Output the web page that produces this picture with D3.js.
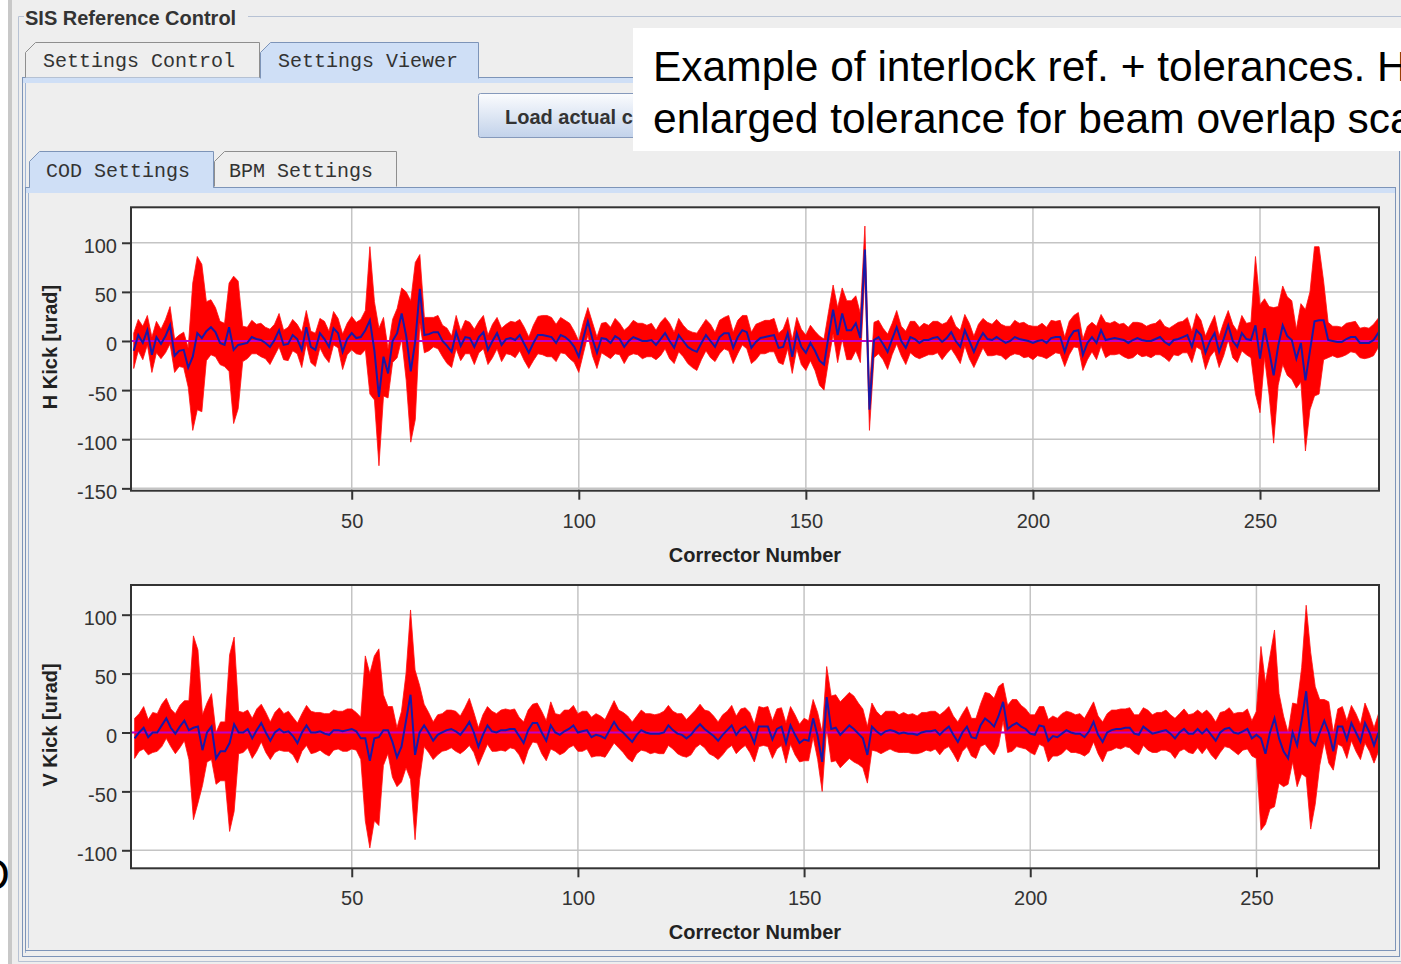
<!DOCTYPE html>
<html><head><meta charset="utf-8">
<script src="https://cdn.jsdelivr.net/npm/d3@7"></script>
<style>body{margin:0;background:#fff;overflow:hidden}svg{display:block}</style>
</head><body>
<svg id="c" width="1401" height="964"></svg>
<script>
// ---------------- data ----------------
const firstCorrector = 2;
const hRef = [-10,6,-2,11,-14,4,-3,5,16,-15,
 -10,-9,-27,-16,8,3,10,14,9,-2,
 -4,14,-9,-4,-3,-2,4,2,1,-2,
 -6,1,11,-4,-3,6,2,-9,14,-6,
 -9,8,2,-6,13,8,-11,2,8,3,
 4,11,21,-10,-57,-16,-33,0,8,28,
 5,-31,0,53,6,7,9,9,0,-5,
 -11,9,-5,4,3,-6,4,9,-9,0,
 8,-4,2,3,1,6,-3,-12,-2,6,
 6,5,4,-2,6,4,0,-6,-16,3,
 20,2,-12,3,2,-2,5,2,-6,0,
 4,2,0,0,1,-4,2,8,0,-7,
 6,0,-6,-9,-11,-2,6,0,-6,4,
 8,8,-7,4,11,9,-7,-1,3,4,
 5,6,-7,-6,8,-16,8,-6,-12,-2,
 -10,-20,-24,5,32,6,28,11,11,18,
 3,93,-70,1,4,-3,-11,2,14,0,
 -7,4,2,-2,1,1,3,4,-1,3,
 9,0,-6,11,0,-11,0,8,2,1,
 4,1,-2,0,4,2,1,0,-2,0,
 1,-2,3,4,4,-11,3,10,11,-14,
 -2,4,-2,11,1,2,3,2,1,-2,
 1,3,1,0,0,2,4,-1,-4,1,
 2,4,6,-6,11,6,-12,0,8,-11,
 2,16,0,-6,8,2,1,16,-18,13,
 -10,-35,-5,16,5,1,-18,-2,-40,-10,
 20,21,21,1,0,-1,-1,2,4,4,
 -2,-2,-2,1,8,0];
const hTol = [18,16,17,15,18,16,15,17,19,17,
 16,18,20,75,78,75,30,28,25,22,
 22,45,75,65,18,16,17,15,17,16,
 18,16,17,15,17,16,15,18,17,16,
 17,15,18,16,17,15,18,16,17,16,
 18,20,75,50,70,40,25,22,25,26,
 45,72,80,35,18,17,15,17,16,18,
 16,17,15,17,16,18,16,17,15,17,
 16,17,15,17,18,16,17,16,18,19,
 20,21,20,19,18,17,18,16,16,16,
 14,17,16,15,17,16,18,16,17,15,
 17,16,18,16,17,15,17,16,18,16,
 17,16,17,18,19,17,16,17,15,17,
 16,18,16,17,15,17,16,18,16,17,
 16,17,15,18,16,17,16,18,18,18,
 20,25,26,25,25,28,26,30,30,28,
 25,24,21,18,17,16,18,16,17,15,
 17,16,18,16,17,15,17,16,18,16,
 17,15,17,16,18,16,17,15,17,16,
 18,16,17,15,17,16,18,16,17,15,
 17,16,18,16,17,15,17,16,18,16,
 17,15,17,16,18,16,17,15,17,16,
 18,16,17,15,17,16,18,16,17,15,
 17,16,18,16,17,15,17,16,18,16,
 17,15,17,16,18,16,18,70,55,30,
 45,69,40,40,40,40,30,40,72,60,
 76,75,40,18,15,16,15,16,15,16,
 15,16,15,16,15,15];
const vRef = [-5,0,4,-4,0,0,6,12,4,-1,
 5,10,2,4,5,-15,0,5,-22,-16,
 -16,-9,7,0,0,3,-5,2,8,0,
 -7,0,3,0,1,-3,-9,0,6,0,
 0,1,-1,-2,2,2,1,2,3,1,
 -5,-5,-24,-5,-4,2,2,-8,-21,-12,
 10,32,-19,0,6,0,-7,-2,0,2,
 3,1,-2,3,9,0,-12,-2,6,1,
 0,2,2,3,3,-3,-9,2,8,8,
 0,-7,6,0,-2,1,3,6,0,1,
 2,-4,-2,-3,-5,2,9,3,0,-4,
 -8,-2,2,0,-1,-1,-1,0,6,2,
 -1,-2,-5,-2,3,7,3,0,-3,-7,
 -2,2,6,-2,3,5,0,-9,5,5,
 5,-6,3,5,-9,6,-2,-9,-6,-7,
 12,-3,-25,30,3,4,-2,2,6,3,
 -1,-5,-19,5,1,-2,1,2,1,-1,
 0,-1,-1,-2,0,1,1,2,-2,2,
 5,-2,-8,0,5,-4,-5,6,12,9,
 5,14,26,3,6,8,5,3,-1,-2,
 6,5,-7,-3,-4,-1,2,0,-1,-1,
 -4,1,9,-2,-8,0,2,3,3,4,
 4,-1,-2,5,2,-1,0,1,2,-1,
 -5,0,3,-1,-1,3,-1,3,-2,-7,
 0,3,4,0,-1,1,3,-5,-2,-5,
 -18,0,12,-5,-16,-22,0,-11,10,35,
 -7,-11,0,10,0,-16,5,5,-6,8,
 0,-8,8,0,-11,0];
const vTol = [17,16,18,15,17,16,18,17,16,17,
 18,17,25,78,65,30,25,28,22,25,
 25,75,74,18,17,16,17,18,16,17,
 16,17,18,16,17,16,17,16,17,18,
 17,16,17,18,17,16,17,18,17,16,
 18,70,74,70,75,30,20,30,25,30,
 40,72,72,40,18,17,16,17,16,17,
 16,17,16,18,20,17,16,17,16,17,
 16,17,18,16,17,16,18,17,16,17,
 18,17,20,16,17,18,16,17,16,17,
 16,17,18,17,16,17,18,16,17,18,
 17,16,17,16,17,16,17,18,17,16,
 17,18,16,17,16,17,16,18,17,16,
 17,16,17,16,17,16,17,16,17,16,
 17,16,17,16,17,16,17,16,18,17,
 16,20,25,26,28,28,28,28,28,28,
 26,25,24,20,17,16,17,16,17,16,
 17,16,17,16,17,16,17,16,17,16,
 17,16,17,16,17,16,17,18,22,24,
 24,25,16,20,22,20,18,17,16,17,
 16,17,18,17,16,17,16,17,16,17,
 16,18,17,16,17,16,17,16,17,16,
 17,16,17,16,17,16,17,16,17,16,
 17,16,17,16,17,16,17,16,17,16,
 17,15,17,16,18,16,17,15,20,78,
 60,65,75,38,30,22,25,35,45,73,
 75,50,28,18,26,16,15,17,16,15,
 16,15,17,16,15,16];
const xTicks = [50,100,150,200,250];
const hYTicks = [-150,-100,-50,0,50,100];
const vYTicks = [-100,-50,0,50,100];
const xLabel = "Corrector Number";
const hLabel = "H Kick [urad]";
const vLabel = "V Kick [urad]";
const panelTitle = "SIS Reference Control";
const outerTabs = ["Settings Control","Settings Viewer"];
const innerTabs = ["COD Settings","BPM Settings"];
const buttonText = "Load actual c";
const noteLines = ["Example of interlock ref. + tolerances. H","enlarged tolerance for beam overlap sca"];

// ---------------- drawing ----------------
const svg = d3.select("#c");
const SANS = "'Liberation Sans', Arial, sans-serif";
const MONO = "'Liberation Mono', 'DejaVu Sans Mono', monospace";
const BG = "#eeeeee", SEL = "#cfdff6", SELB = "#7d94b8", UNB = "#8e8e8e";

svg.append("rect").attr("width",1401).attr("height",964).attr("fill","#fff");
svg.append("rect").attr("x",8).attr("y",0).attr("width",4).attr("height",964).attr("fill","#c8c8c8");
svg.append("rect").attr("x",12).attr("y",0).attr("width",1389).attr("height",964).attr("fill",BG);

// titled border
svg.append("path").attr("d","M24,16.5 H18.5 V961.5 H1401 M248,16.5 H1401")
  .attr("fill","none").attr("stroke","#b7c2d4").attr("stroke-width",1);
svg.append("text").attr("x",25).attr("y",25).text(panelTitle)
  .attr("font-family",SANS).attr("font-weight","bold").attr("font-size",20).attr("fill","#333");

function tab(x,y,w,h,sel,label,tx,ty){
  svg.append("path").attr("d",`M${x},${y+h} L${x},${y+10} L${x+10},${y} L${x+w},${y} L${x+w},${y+h}`)
    .attr("fill",sel?SEL:BG).attr("stroke",sel?SELB:UNB).attr("stroke-width",1);
  svg.append("text").attr("x",tx).attr("y",ty).text(label)
    .attr("font-family",MONO).attr("font-size",20).attr("fill","#333");
}
// outer tab panel
svg.append("rect").attr("x",22.5).attr("y",77.5).attr("width",1377).attr("height",879)
  .attr("fill",BG).attr("stroke",SELB);
svg.append("rect").attr("x",23).attr("y",78).attr("width",1376).attr("height",5).attr("fill",SEL);
svg.append("line").attr("x1",25.5).attr("x2",25.5).attr("y1",83).attr("y2",953).attr("stroke","#9fb4d4");
tab(25.5,42.5,234,35,false,outerTabs[0],43,67);
tab(260.5,42.5,218,36,true,outerTabs[1],278,67);
svg.append("rect").attr("x",261).attr("y",76).attr("width",217).attr("height",7).attr("fill",SEL);

// button
const grad = svg.append("defs").append("linearGradient").attr("id","btn").attr("x1",0).attr("x2",0).attr("y1",0).attr("y2",1);
grad.append("stop").attr("offset",0).attr("stop-color","#fbfcfe");
grad.append("stop").attr("offset",1).attr("stop-color","#c2d2ea");
svg.append("rect").attr("x",478.5).attr("y",93.5).attr("width",180).attr("height",44).attr("rx",2)
  .attr("fill","url(#btn)").attr("stroke","#8599bb");
svg.append("text").attr("x",505).attr("y",124).text(buttonText)
  .attr("font-family",SANS).attr("font-weight","bold").attr("font-size",20).attr("fill","#333");

// inner tab panel
svg.append("rect").attr("x",25.5).attr("y",187.5).attr("width",1370).attr("height",763)
  .attr("fill",BG).attr("stroke",SELB);
svg.append("rect").attr("x",26).attr("y",188).attr("width",1369).attr("height",5).attr("fill",SEL);
svg.append("line").attr("x1",28.5).attr("x2",28.5).attr("y1",193).attr("y2",948).attr("stroke","#9fb4d4");
tab(29.5,151.5,184,36,true,innerTabs[0],46,177);
tab(214.5,151.5,182,35,false,innerTabs[1],229,177);
svg.append("rect").attr("x",30).attr("y",185).attr("width",183).attr("height",8).attr("fill",SEL);

// ---------------- charts ----------------
let clipId = 0;
function chart(cfg){
  const {ref,tol,xDom,yDom,left,right,top,bottom,yTicks,yLabel,xLabelY,yLabelY} = cfg;
  const x = d3.scaleLinear().domain(xDom).range([left,right]);
  const y = d3.scaleLinear().domain(yDom).range([bottom,top]);
  const g = svg.append("g");
  const id = "clip"+(clipId++);
  g.append("clipPath").attr("id",id).append("rect")
    .attr("x",left).attr("y",top).attr("width",right-left).attr("height",bottom-top);
  g.append("rect").attr("x",left).attr("y",top).attr("width",right-left).attr("height",bottom-top).attr("fill","#fff");
  const grid = g.append("g").attr("stroke","#c4c4c4").attr("stroke-width",1.5);
  xTicks.forEach(t=>grid.append("line").attr("x1",x(t)).attr("x2",x(t)).attr("y1",top).attr("y2",bottom));
  yTicks.forEach(t=>grid.append("line").attr("x1",left).attr("x2",right).attr("y1",y(t)).attr("y2",y(t)));
  const pts = ref.map((r,i)=>({n:i+firstCorrector,r,t:tol[i]}));
  const plot = g.append("g").attr("clip-path",`url(#${id})`);
  plot.append("path").datum(pts)
    .attr("d",d3.area().x(d=>x(d.n)).y0(d=>y(d.r-d.t)).y1(d=>y(d.r+d.t)))
    .attr("fill","#ff0000").attr("stroke","#ff1010").attr("stroke-width",0.8).attr("stroke-linejoin","round");
  plot.append("line").attr("x1",left).attr("x2",right).attr("y1",y(0)).attr("y2",y(0))
    .attr("stroke","#c000c8").attr("stroke-width",2);
  plot.append("path").datum(pts)
    .attr("d",d3.line().x(d=>x(d.n)).y(d=>y(d.r)))
    .attr("fill","none").attr("stroke","#1818a8").attr("stroke-width",2);
  g.append("rect").attr("x",left).attr("y",top).attr("width",right-left).attr("height",bottom-top)
    .attr("fill","none").attr("stroke","#333").attr("stroke-width",2);
  const fmt = d => String(d);
  const ya = g.append("g").attr("transform",`translate(${left},0)`)
    .call(d3.axisLeft(y).tickValues(yTicks).tickSize(9).tickPadding(5).tickFormat(fmt));
  const xa = g.append("g").attr("transform",`translate(0,${bottom})`)
    .call(d3.axisBottom(x).tickValues(xTicks).tickSize(9).tickPadding(14).tickFormat(fmt));
  [ya,xa].forEach(a=>{
    a.select(".domain").remove();
    a.selectAll("line").attr("stroke","#333").attr("stroke-width",2);
    a.selectAll("text").attr("font-family",SANS).attr("font-size",20).attr("fill","#333");
  });
  ya.selectAll("text").attr("dy","0.5em");
  g.append("text").attr("x",(left+right)/2).attr("y",xLabelY).attr("text-anchor","middle").text(xLabel)
    .attr("font-family",SANS).attr("font-weight","bold").attr("font-size",20).attr("fill","#222");
  g.append("text").attr("transform",`translate(57,${yLabelY}) rotate(-90)`).attr("text-anchor","middle").text(yLabel)
    .attr("font-family",SANS).attr("font-weight","bold").attr("font-size",20).attr("fill","#222");
}
chart({ref:hRef,tol:hTol,xDom:[1.4,276.2],yDom:[-152.4,136.1],left:131,right:1379,top:207.3,bottom:490.7,
  yTicks:hYTicks,yLabel:hLabel,xLabelY:562,yLabelY:347});
chart({ref:vRef,tol:vTol,xDom:[1.2,277.1],yDom:[-115.3,125.2],left:131,right:1379,top:585,bottom:868.3,
  yTicks:vYTicks,yLabel:vLabel,xLabelY:939,yLabelY:725});

// ---------------- slide overlay ----------------
svg.append("rect").attr("x",633).attr("y",28).attr("width",768).attr("height",123).attr("fill","#fff");
noteLines.forEach((t,i)=>svg.append("text").attr("x",653).attr("y",81+i*52).text(t)
  .attr("font-family",SANS).attr("font-size",42.5).attr("fill","#000"));
svg.append("rect").attr("x",0).attr("y",850).attr("width",8).attr("height",50).attr("fill","#fff");
svg.append("text").attr("x",-22).attr("y",890).text("D")
  .attr("font-family",SANS).attr("font-size",44).attr("fill","#000");
</script>
</body></html>
